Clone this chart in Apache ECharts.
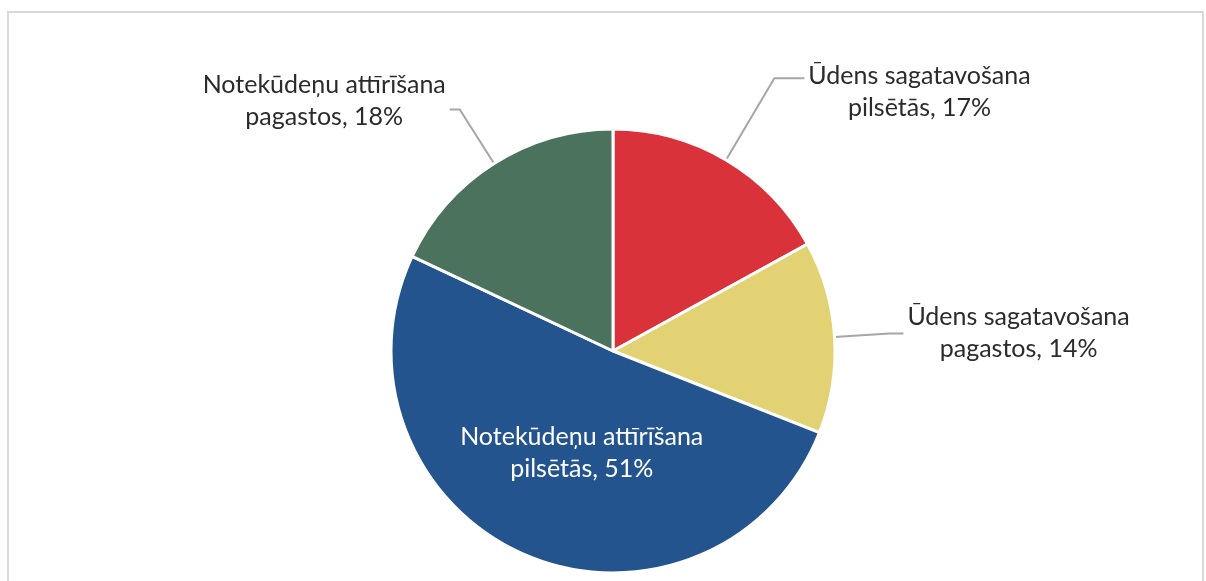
<!DOCTYPE html>
<html>
<head>
<meta charset="utf-8">
<script src="https://cdn.jsdelivr.net/npm/echarts@6/dist/echarts.min.js"></script>
<style>
  html, body { margin: 0; padding: 0; background: #ffffff; }
  #frame { position: absolute; left: 7px; top: 11px; width: 1197px; height: 580px;
           border: 2px solid #d9d9d9; border-bottom: none; box-sizing: border-box; }
  #chart { position: absolute; left: 0; top: 0; width: 1206px; height: 581px; }
</style>
</head>
<body>
<div id="frame"></div>
<div id="chart"></div>
<script>
// Slice names and shares (%), clockwise from 12 o'clock
const categories = [
  'Ūdens sagatavošana pilsētās',
  'Ūdens sagatavošana pagastos',
  'Notekūdeņu attīrīšana pilsētās',
  'Notekūdeņu attīrīšana pagastos'
];
const shares = [17, 14, 51, 18];
const colors = ['#d9323a', '#e3d274', '#24548e', '#4a725c'];
// connector line lengths for the outside labels (radial part, horizontal part)
const lineLengths = [[95, 30], [55, 14], [0, 0], [64, 10]];
// label box padding [top, right, bottom, left] used to nudge each label block
const labelPads = [[28, 0, 0, 0], [0, 0, 2, 0], [0, 0, 6, 28], [0, 0, 18, 0]];

// Two-line label: everything up to the last word, then "last word, N%"
function labelText(name, value) {
  const cut = name.lastIndexOf(' ');
  return '{c|' + name.slice(0, cut) + '}\n{c|' + name.slice(cut + 1) + ', ' + value + '%}';
}

const FONT = 'Lato, "Open Sans", sans-serif';
const textStyle = color => ({ color: color, align: 'center', fontSize: 25, lineHeight: 32, fontFamily: FONT });

const data = categories.map((name, i) => {
  const inside = i === 2;
  return {
    name: name,
    value: shares[i],
    itemStyle: { color: colors[i] },
    label: {
      position: inside ? 'inside' : 'outside',
      padding: labelPads[i],
      rich: { c: textStyle(inside ? '#ffffff' : '#2b2b2b') }
    },
    labelLine: inside
      ? { show: false }
      : { show: true, length: lineLengths[i][0], length2: lineLengths[i][1] }
  };
});

const chart = echarts.init(document.getElementById('chart'), null, { renderer: 'canvas' });
chart.setOption({
  animation: false,
  series: [{
    type: 'pie',
    center: [613, 351],
    radius: 222,
    startAngle: 90,
    clockwise: true,
    avoidLabelOverlap: false,
    itemStyle: { borderColor: '#ffffff', borderWidth: 3 },
    label: {
      formatter: p => labelText(p.name, p.value),
      distanceToLabelLine: 4
    },
    labelLine: { lineStyle: { color: '#a6a6a6', width: 2 }, smooth: false },
    data: data
  }]
});
</script>
</body>
</html>
